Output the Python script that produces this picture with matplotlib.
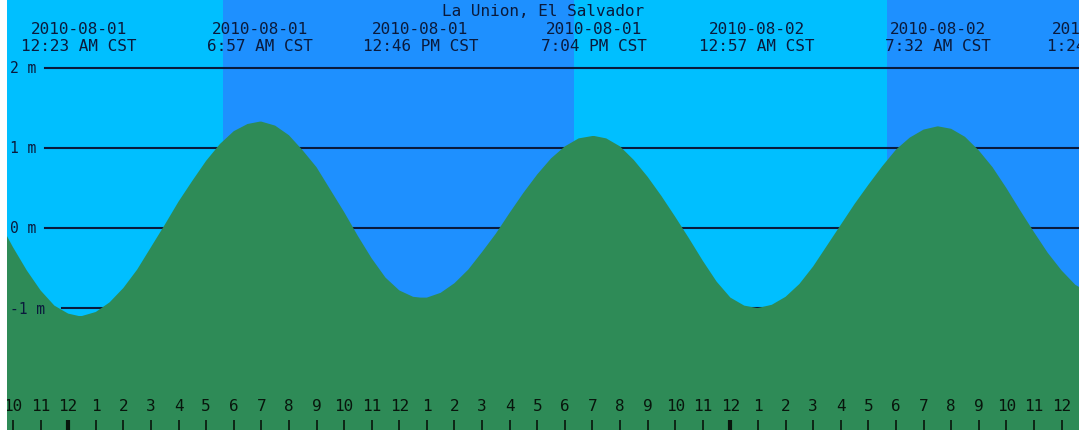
import numpy as np
import pandas as pd
import matplotlib
matplotlib.use('Agg')
import matplotlib.pyplot as plt
import matplotlib.transforms as mtransforms

station = 'La Union, El Salvador'

# tide heights (m) every half hour starting 2010-07-31 21:00 CST
first_time = '2010-07-31 21:00'
step_min = 30
heights = [0.39, 0.08, -0.24, -0.53, -0.78, -0.97, -1.07, -1.10, -1.05, -0.93,
           -0.75, -0.52, -0.24, 0.04, 0.33, 0.59, 0.84, 1.05, 1.21, 1.30,
           1.33, 1.28, 1.16, 0.97, 0.76, 0.48, 0.20, -0.10, -0.38, -0.62,
           -0.78, -0.86, -0.87, -0.81, -0.69, -0.52, -0.30, -0.07, 0.19, 0.44,
           0.67, 0.87, 1.02, 1.12, 1.15, 1.12, 1.02, 0.85, 0.64, 0.40,
           0.14, -0.13, -0.41, -0.67, -0.87, -0.97, -1.00, -0.96, -0.86, -0.70,
           -0.48, -0.22, 0.04, 0.30, 0.54, 0.77, 0.98, 1.13, 1.23, 1.27,
           1.24, 1.14, 0.97, 0.76, 0.50, 0.22, -0.05, -0.31, -0.53, -0.71,
           -0.81]

# high / low tides
event_times = ['2010-08-01 00:23', '2010-08-01 06:57', '2010-08-01 12:46',
               '2010-08-01 19:04', '2010-08-02 00:57', '2010-08-02 07:32',
               '2010-08-02 13:24']
event_heights = [-1.10, 1.33, -0.87, 1.15, -1.00, 1.27, -0.85]

# sunrise / sunset
sunrise = ['2010-08-01 05:37', '2010-08-02 05:40']
sunset = ['2010-08-01 18:19', '2010-08-02 23:59']

view_start = '2010-07-31 21:47'
view_end = '2010-08-02 12:38'

levels = [2, 1, 0, -1]
level_labels = ['2 m', '1 m', '0 m', '-1 m']

t0 = pd.Timestamp('2010-08-01 00:00')
def hrs(t):
    return (pd.Timestamp(t) - t0) / pd.Timedelta(hours=1)

h_first = hrs(first_time)
x_samples = [h_first + i * step_min / 60 for i in range(len(heights))]
x_events = [hrs(t) for t in event_times]
pts = sorted(zip(x_samples + x_events, heights + event_heights))
x = np.array([p[0] for p in pts])
y = np.array([p[1] for p in pts])

night = '#00BFFF'
day = '#1E90FF'
green = '#2E8B57'
ink = '#0a1a3c'
mono = 'DejaVu Sans Mono'

fig = plt.figure(figsize=(10.79, 4.31), dpi=100)
ax = fig.add_axes([7/1079, 0, 1 - 7/1079, 1])
ax.set_facecolor(night)
for s in ax.spines.values():
    s.set_visible(False)
ax.set_xticks([])
ax.set_yticks([])
ax.set_xlim(hrs(view_start), hrs(view_end))
ax.set_ylim(-2.525, 2.8625)

for a, b in zip(sunrise, sunset):
    ax.axvspan(hrs(a), hrs(b), color=day, lw=0, zorder=0)

# level lines sit under the water, labels on top
tr_line = mtransforms.blended_transform_factory(ax.transAxes, ax.transData)
for lev, lab in zip(levels, level_labels):
    start = 0.0355 if lev >= 0 else 0.0515
    ax.plot([start, 1], [lev, lev], color=ink, lw=1.5, transform=tr_line, zorder=1)
    ax.text(0.003, lev, lab, transform=tr_line, family=mono, fontsize=10.5,
            color=ink, va='center', ha='left', zorder=3)

ax.fill_between(x, y, -3, color=green, lw=0, zorder=2)

tr_top = mtransforms.blended_transform_factory(ax.transData, ax.transAxes)
ax.text(0.5, 0.973, station, transform=ax.transAxes, family=mono, fontsize=11.5,
        color=ink, ha='center', va='center')
for t in event_times:
    ts = pd.Timestamp(t)
    hour12 = ts.hour % 12 if ts.hour % 12 else 12
    ampm = 'AM' if ts.hour < 12 else 'PM'
    ax.text(hrs(t), 0.932, ts.strftime('%Y-%m-%d'), transform=tr_top, family=mono,
            fontsize=11.5, color=ink, ha='center', va='center', clip_on=True, zorder=3)
    ax.text(hrs(t), 0.893, '%d:%02d %s CST' % (hour12, ts.minute, ampm),
            transform=tr_top, family=mono, fontsize=11.5, color=ink,
            ha='center', va='center', clip_on=True, zorder=3)

# hour ticks along the bottom
for h in range(-3, 38):
    lab = h % 12 if h % 12 else 12
    ax.text(h, 0.058, str(lab), transform=tr_top, family=mono, fontsize=11.5,
            color='#08150c', ha='center', va='center', clip_on=True, zorder=3)
    w = 3 if h % 24 == 0 else 1.2
    ax.plot([h, h], [0, 0.024], transform=tr_top, color='#08150c', lw=w,
            solid_capstyle='butt', zorder=3, clip_on=True)

fig.savefig('out.png', dpi=100)
